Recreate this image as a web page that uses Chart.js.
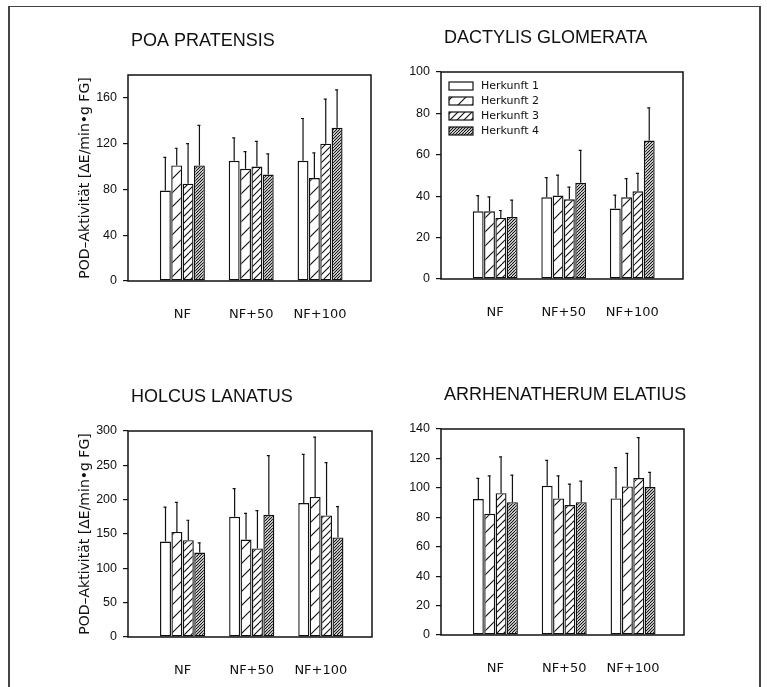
<!DOCTYPE html>
<html lang="de">
<head>
  <meta charset="UTF-8">
  <title>POD-Aktivität</title>
  <style>
    * { margin: 0; padding: 0; box-sizing: border-box; }
    body { background: #fff; width: 767px; height: 687px; overflow: hidden; }
    #wrap { position: relative; width: 767px; height: 687px; }
    #frame {
      position: absolute; left: 8px; top: 6px; width: 753px; height: 700px;
      border-left: 2px solid #444; border-top: 1.5px solid #444; border-right: 2px solid #444;
    }
    canvas { position: absolute; }
  </style>
  <script src="https://cdn.jsdelivr.net/npm/chart.js"></script>
</head>
<body>
  <div id="wrap">
    <div id="frame"></div>
    <canvas id="c1"></canvas>
    <canvas id="c2"></canvas>
    <canvas id="c3"></canvas>
    <canvas id="c4"></canvas>
  </div>

  <script>
    const categories = ['NF', 'NF+50', 'NF+100'];
    const herkunft = ['Herkunft 1', 'Herkunft 2', 'Herkunft 3', 'Herkunft 4'];
    const yTitle = 'POD–Aktivität [ΔE/min•g FG]';

    // means per Herkunft (rows) over NF, NF+50, NF+100
    const poaMean = [[79, 105, 105], [101, 98, 90], [85, 100, 120], [101, 93, 134]];
    const poaSd   = [[29, 20, 37], [15, 15, 22], [35, 22, 39], [35, 18, 33]];

    const dacMean = [[32.7, 39.5, 34], [32.7, 40.3, 39.5], [29.5, 38.5, 42.4], [30, 46.5, 66.9]];
    const dacSd   = [[7.6, 9.5, 6.5], [7, 9.9, 9], [3.6, 5.9, 8.6], [8.1, 15.6, 15.8]];

    const holMean = [[139, 175, 195], [153, 142, 204], [141, 129, 177], [123, 178, 145]];
    const holSd   = [[50, 41, 71], [43, 38, 87], [29, 55, 77], [14, 86, 45]];

    const arrMean = [[92.4, 101.4, 92.8], [82.4, 92.8, 101], [96.4, 88.3, 106.7], [90.3, 90.3, 100.5]];
    const arrSd   = [[14, 17.3, 20.9], [25.8, 15.4, 22.4], [24.6, 14.3, 27.4], [18.4, 14.3, 10]];

    const panels = [
      { id: 'c1', title: 'POA PRATENSIS', mean: poaMean, sd: poaSd, max: 180, step: 40, left: 70, top: 15, areaW: 243, areaH: 206, yTitle: true, legend: false },
      { id: 'c2', title: 'DACTYLIS GLOMERATA', mean: dacMean, sd: dacSd, max: 100, step: 20, left: 383, top: 12, areaW: 242, areaH: 207, yTitle: false, legend: true },
      { id: 'c3', title: 'HOLCUS LANATUS', mean: holMean, sd: holSd, max: 300, step: 50, left: 70, top: 371, areaW: 244, areaH: 206, yTitle: true, legend: false },
      { id: 'c4', title: 'ARRHENATHERUM ELATIUS', mean: arrMean, sd: arrSd, max: 140, step: 20, left: 383, top: 369, areaW: 243, areaH: 206, yTitle: false, legend: false }
    ];

    // hatch spacing per Herkunft (0 = empty)
    const spacing = [0, 14, 7, 3];

    function makePattern(ctx, s) {
      if (!s) return '#fff';
      const t = document.createElement('canvas');
      const n = s * 2;
      t.width = n; t.height = n;
      const c = t.getContext('2d');
      c.fillStyle = '#fff';
      c.fillRect(0, 0, n, n);
      c.strokeStyle = '#111';
      c.lineWidth = s > 3 ? 1.1 : 1.1;
      c.beginPath();
      for (let k = -n; k <= n; k += s) {
        c.moveTo(k, n);
        c.lineTo(k + n, 0);
      }
      c.stroke();
      return ctx.createPattern(t, 'repeat');
    }

    const decoPlugin = {
      id: 'panelDeco',
      afterDatasetsDraw(chart, args, opts) {
        const { ctx, chartArea: a, scales } = chart;
        ctx.save();
        // error bars (upper only)
        ctx.strokeStyle = '#111';
        ctx.lineWidth = 1.2;
        chart.data.datasets.forEach((ds, di) => {
          chart.getDatasetMeta(di).data.forEach((bar, i) => {
            const top = scales.y.getPixelForValue(ds.data[i].y + opts.sd[di][i]);
            ctx.beginPath();
            ctx.moveTo(bar.x, bar.y);
            ctx.lineTo(bar.x, top);
            ctx.moveTo(bar.x - 2, top);
            ctx.lineTo(bar.x + 1, top);
            ctx.stroke();
          });
        });
        // box
        ctx.lineWidth = 1.5;
        ctx.strokeRect(a.left, a.top, a.right - a.left, a.bottom - a.top);
        // title
        ctx.fillStyle = '#111';
        ctx.font = '18px "Liberation Sans", Arial, sans-serif';
        ctx.textBaseline = 'alphabetic';
        ctx.textAlign = 'left';
        ctx.fillText(opts.title, a.left + 3, a.top - 29);
        // legend
        if (opts.legend) {
          ctx.font = '11px "DejaVu Sans", sans-serif';
          ctx.textBaseline = 'middle';
          ctx.lineWidth = 1.2;
          chart.data.datasets.forEach((ds, i) => {
            const y = a.top + 14 + i * 15;
            ctx.fillStyle = ds.backgroundColor;
            ctx.fillRect(a.left + 8, y - 4, 24, 8);
            ctx.strokeRect(a.left + 8, y - 4, 24, 8);
            ctx.fillStyle = '#111';
            ctx.fillText(ds.label, a.left + 40, y);
          });
        }
        ctx.restore();
      }
    };

    panels.forEach(p => {
      const canvas = document.getElementById(p.id);
      const w = 58 + p.areaW + 12;
      const h = 60 + p.areaH + 50;
      canvas.width = w;
      canvas.height = h;
      canvas.style.left = p.left + 'px';
      canvas.style.top = p.top + 'px';
      const ctx = canvas.getContext('2d');

      const datasets = herkunft.map((name, k) => ({
        label: name,
        data: categories.map((c, i) => ({ x: i + 1, y: p.mean[k][i] })),
        backgroundColor: makePattern(ctx, spacing[k]),
        borderColor: '#111',
        borderWidth: 1.4,
        borderSkipped: false,
        categoryPercentage: 0.66,
        barPercentage: 0.96
      }));

      new Chart(ctx, {
        type: 'bar',
        data: { datasets: datasets },
        plugins: [decoPlugin],
        options: {
          responsive: false,
          animation: false,
          layout: { padding: { left: 0, top: 60, right: 12, bottom: 0 } },
          plugins: {
            legend: { display: false },
            tooltip: { enabled: false },
            panelDeco: { title: p.title, sd: p.sd, legend: p.legend }
          },
          scales: {
            x: {
              type: 'linear',
              min: 0.21,
              max: 3.74,
              offset: false,
              border: { display: false },
              grid: { display: false, drawTicks: false },
              afterBuildTicks: axis => { axis.ticks = categories.map((c, i) => ({ value: i + 1 })); },
              afterFit: s => { s.height = 50; },
              ticks: {
                padding: 26,
                color: '#111',
                font: { family: 'DejaVu Sans', size: 13 },
                callback: v => categories[v - 1]
              }
            },
            y: {
              min: 0,
              max: p.max,
              border: { display: false },
              grid: { display: true, drawOnChartArea: false, drawTicks: true, tickLength: 5, color: '#111', lineWidth: 1.2 },
              afterFit: s => { s.width = 58; },
              ticks: {
                stepSize: p.step,
                includeBounds: false,
                padding: 6,
                color: '#111',
                font: { family: 'Liberation Sans', size: 12.5 }
              },
              title: {
                display: p.yTitle,
                text: yTitle,
                color: '#111',
                padding: { top: 7, bottom: 0 },
                font: { family: 'DejaVu Sans', size: 14 }
              }
            }
          }
        }
      });
    });
  </script>
</body>
</html>
